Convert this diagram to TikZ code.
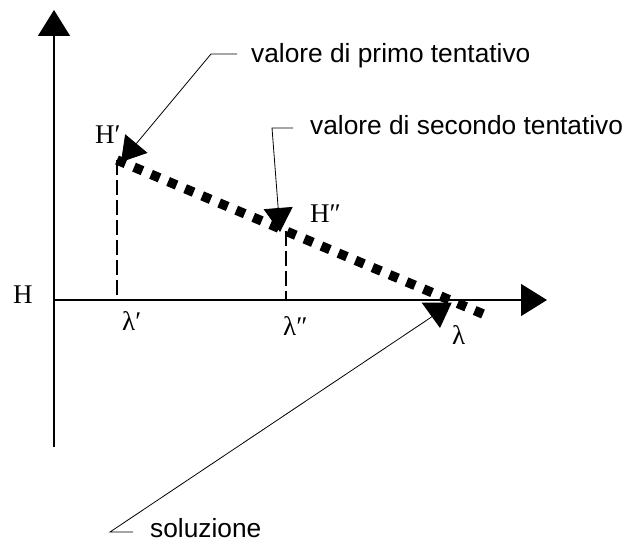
\documentclass[tikz,border=0pt]{standalone}
\usepackage{fontspec}
\setmainfont{Liberation Serif}
\newfontfamily\lblfont{Liberation Sans}
\usetikzlibrary{arrows.meta}
\tikzset{
  axisline/.style={line width=1.3pt,-{Triangle[length=26pt,width=32pt]}},
  leader/.style={line width=0.8pt,-{Triangle[length=24pt,width=29pt]}},
  leaderplain/.style={line width=0.8pt},
  dropline/.style={line width=2pt,dash pattern=on 15pt off 5pt},
  thickdots/.style={line width=9.5pt,dash pattern=on 9.2pt off 9.28pt},
  lbl/.style={font=\lblfont\fontsize{26.3pt}{30pt}\selectfont,anchor=base west,inner sep=0pt},
  sym/.style={font=\fontsize{27pt}{31pt}\selectfont,anchor=base west,inner sep=0pt}
}
\begin{document}
\begin{tikzpicture}[x=1pt,y=-1pt]
\useasboundingbox (0,0) rectangle (642,545);
% axes
\coordinate (O) at (54,300);
\coordinate (ytop) at (54,10);
\coordinate (ybot) at (54,447);
\coordinate (xend) at (547,300);
\draw[axisline] (ybot) -- (ytop);
\draw[axisline] (O) -- (xend);
% points
\coordinate (P1) at (117,160);
\coordinate (P2) at (286,231);
\coordinate (F1) at (117,300);
\coordinate (F2) at (286,300);
\coordinate (Pend) at (483,314);
\draw[dropline] (P1) -- (F1);
\draw[dropline] (P2) -- (F2);
\draw[thickdots] (P1) -- (Pend);
% labels
\node[sym] (H) at (13,303) {H};
\node[sym] (H1) at (95,144) {H′};
\node[sym] (H2) at (310,223) {H″};
\node[sym] (L1) at (122,330) {λ′};
\node[sym] (L2) at (283,335) {λ″};
\node[sym] (L) at (452,344) {λ};
% callouts
\node[lbl] (t1) at (251,63) {valore di primo tentativo};
\node[lbl] (t2) at (310,135) {valore di secondo tentativo};
\node[lbl] (t3) at (150,537) {soluzione};
\coordinate (a1s) at (237,54);
\coordinate (a1k) at (211,54);
\coordinate (a1e) at (121,162);
\draw[leader] (a1s) -- (a1k) -- (a1e);
\coordinate (a2s) at (293,128);
\coordinate (a2k) at (272,128);
\coordinate (a2e) at (280,232);
\draw[leader] (a2s) -- (a2k) -- (a2e);
\coordinate (a3s) at (133,532);
\coordinate (a3k) at (110,532);
\coordinate (a3e) at (433,316);
\draw[leaderplain] (a3s) -- (a3k) -- (a3e);
\fill (421.7,302.7) -- (451.7,302.7) -- (440,328) -- cycle;
\end{tikzpicture}
\end{document}
